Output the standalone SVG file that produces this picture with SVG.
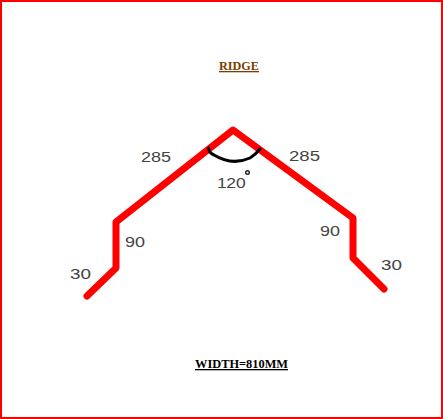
<svg xmlns="http://www.w3.org/2000/svg" width="443" height="419" viewBox="0 0 443 419">
<style>
.dim{font-family:"Liberation Sans",Arial,sans-serif;font-size:14px;fill:#444}
.title{font-family:"Liberation Serif","Times New Roman",serif;font-size:13px;font-weight:bold;text-decoration:underline}
.sheet{fill:none;stroke:#f00;stroke-width:7;stroke-linejoin:round;stroke-linecap:round}
</style>
<rect width="443" height="419" fill="#fff"/>
<rect x="1" y="1" width="441" height="417" fill="none" stroke="#f00" stroke-width="2"/>
<g id="connectors">
<path id="profile" class="sheet" d="M87 296L116 268V222L233 130L353 218V258L384 289"/>
<path id="angle-arc" d="M208.500 148Q209 153 214 155Q232 166 250 158Q256 154 260 149" fill="none" stroke="#000" stroke-width="3" stroke-linecap="round"/>
</g>
<g id="title"><text class="title" x="219" y="70" textLength="40" lengthAdjust="spacingAndGlyphs" fill="#7a3e00">RIDGE</text></g>
<g id="width"><text class="title" x="195" y="368" textLength="93" lengthAdjust="spacingAndGlyphs" fill="#000">WIDTH=810MM</text></g>
<g id="label-285-left"><text class="dim" x="141" y="162" textLength="30" lengthAdjust="spacingAndGlyphs">285</text></g>
<g id="label-285-right"><text class="dim" x="289" y="161" textLength="31" lengthAdjust="spacingAndGlyphs">285</text></g>
<g id="label-120"><text class="dim" transform="translate(217 188) scale(1.25 1)" x="0" y="0">1<tspan x="7.500">20</tspan></text><circle cx="247.500" cy="172.500" r="1.800" fill="none" stroke="#222" stroke-width="1.400"/></g>
<g id="label-90-left"><text class="dim" x="125" y="247" textLength="20" lengthAdjust="spacingAndGlyphs">90</text></g>
<g id="label-90-right"><text class="dim" x="320" y="236" textLength="20" lengthAdjust="spacingAndGlyphs">90</text></g>
<g id="label-30-left"><text class="dim" x="70" y="279" textLength="21" lengthAdjust="spacingAndGlyphs">30</text></g>
<g id="label-30-right"><text class="dim" x="381" y="270" textLength="21" lengthAdjust="spacingAndGlyphs">30</text></g>
</svg>
